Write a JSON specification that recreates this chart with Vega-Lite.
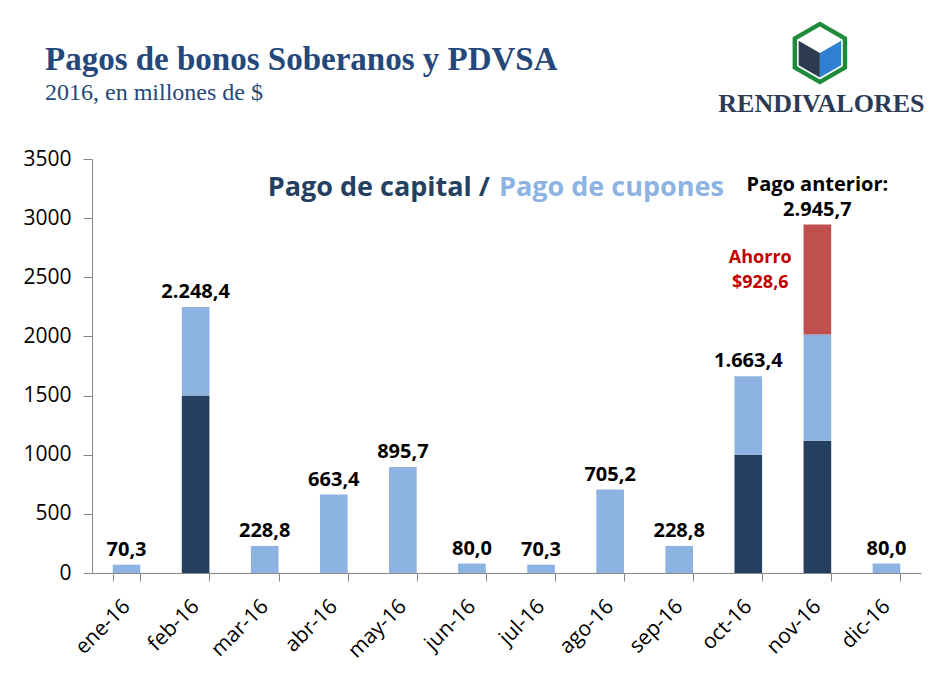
{
  "$schema": "https://vega.github.io/schema/vega-lite/v6.json",
  "width": 829,
  "height": 414,
  "autosize": "none",
  "padding": {"left": 92, "top": 159, "right": 28, "bottom": 104},
  "background": "white",
  "title": {
    "text": "Pagos de bonos Soberanos y PDVSA",
    "subtitle": "2016, en millones de $",
    "anchor": "start",
    "frame": "group",
    "dx": -47,
    "offset": -83,
    "font": "Liberation Serif",
    "fontSize": 33,
    "fontWeight": "bold",
    "color": "#24487A",
    "subtitleFont": "Liberation Serif",
    "subtitleFontSize": 24,
    "subtitleFontWeight": "normal",
    "subtitleColor": "#24487A",
    "subtitlePadding": 4
  },
  "config": {
    "view": {"stroke": null},
    "axis": {"grid": false, "domainColor": "#888888", "tickColor": "#888888", "labelFont": "Open Sans", "labelFontSize": 21, "labelColor": "#000000", "title": null}
  },
  "datasets": {
    "bars": [
      {"month": "ene-16", "serie": "Capital", "ord": 1, "value": 0},
      {"month": "ene-16", "serie": "Cupones", "ord": 2, "value": 70.3},
      {"month": "feb-16", "serie": "Capital", "ord": 1, "value": 1500},
      {"month": "feb-16", "serie": "Cupones", "ord": 2, "value": 748.4},
      {"month": "mar-16", "serie": "Cupones", "ord": 2, "value": 228.8},
      {"month": "abr-16", "serie": "Cupones", "ord": 2, "value": 663.4},
      {"month": "may-16", "serie": "Cupones", "ord": 2, "value": 895.7},
      {"month": "jun-16", "serie": "Cupones", "ord": 2, "value": 80.0},
      {"month": "jul-16", "serie": "Cupones", "ord": 2, "value": 70.3},
      {"month": "ago-16", "serie": "Cupones", "ord": 2, "value": 705.2},
      {"month": "sep-16", "serie": "Cupones", "ord": 2, "value": 228.8},
      {"month": "oct-16", "serie": "Capital", "ord": 1, "value": 1000},
      {"month": "oct-16", "serie": "Cupones", "ord": 2, "value": 663.4},
      {"month": "nov-16", "serie": "Capital", "ord": 1, "value": 1117},
      {"month": "nov-16", "serie": "Cupones", "ord": 2, "value": 900.1},
      {"month": "nov-16", "serie": "Ahorro", "ord": 3, "value": 928.6},
      {"month": "dic-16", "serie": "Cupones", "ord": 2, "value": 80.0}
    ],
    "labels": [
      {"month": "ene-16", "total": 70.3, "label": "70,3"},
      {"month": "feb-16", "total": 2248.4, "label": "2.248,4"},
      {"month": "mar-16", "total": 228.8, "label": "228,8"},
      {"month": "abr-16", "total": 663.4, "label": "663,4"},
      {"month": "may-16", "total": 895.7, "label": "895,7"},
      {"month": "jun-16", "total": 80.0, "label": "80,0"},
      {"month": "jul-16", "total": 70.3, "label": "70,3"},
      {"month": "ago-16", "total": 705.2, "label": "705,2"},
      {"month": "sep-16", "total": 228.8, "label": "228,8"},
      {"month": "oct-16", "total": 1663.4, "label": "1.663,4"},
      {"month": "dic-16", "total": 80.0, "label": "80,0"}
    ]
  },
  "encoding": {
    "x": {
      "field": "month",
      "type": "ordinal",
      "sort": ["ene-16", "feb-16", "mar-16", "abr-16", "may-16", "jun-16", "jul-16", "ago-16", "sep-16", "oct-16", "nov-16", "dic-16"],
      "scale": {"domain": ["ene-16", "feb-16", "mar-16", "abr-16", "may-16", "jun-16", "jul-16", "ago-16", "sep-16", "oct-16", "nov-16", "dic-16"], "paddingInner": 0.6, "paddingOuter": 0.3},
      "axis": {"labelAngle": -45, "labelAlign": "right", "labelBaseline": "middle", "tickBand": "extent", "tickSize": 8, "labelPadding": 22}
    }
  },
  "layer": [
    {
      "data": {"name": "bars"},
      "mark": {"type": "bar"},
      "encoding": {
        "y": {"field": "value", "type": "quantitative", "stack": "zero", "scale": {"domain": [0, 3500], "nice": false}, "axis": {"values": [0, 500, 1000, 1500, 2000, 2500, 3000, 3500], "format": "d", "tickSize": 9, "labelPadding": 12}},
        "color": {"field": "serie", "type": "nominal", "scale": {"domain": ["Capital", "Cupones", "Ahorro"], "range": ["#253F60", "#8DB3E2", "#C0504D"]}, "legend": null},
        "order": {"field": "ord", "type": "quantitative"}
      }
    },
    {
      "data": {"name": "labels"},
      "mark": {"type": "text", "baseline": "bottom", "dy": -5, "font": "Open Sans", "fontSize": 20, "fontWeight": "bold", "color": "#000000"},
      "encoding": {
        "y": {"field": "total", "type": "quantitative"},
        "text": {"field": "label"}
      }
    },
    {
      "data": {"values": [{"month": "nov-16", "total": 2945.7, "label": "Pago anterior:\n2.945,7"}]},
      "mark": {"type": "text", "baseline": "bottom", "dy": -30, "font": "Open Sans", "fontSize": 20, "fontWeight": "bold", "color": "#000000", "lineBreak": "\n", "lineHeight": 25},
      "encoding": {
        "y": {"field": "total", "type": "quantitative"},
        "text": {"field": "label"}
      }
    },
    {
      "data": {"values": [{"month": "oct-16", "y": 2667, "t": "Ahorro\n$928,6"}]},
      "mark": {"type": "text", "baseline": "middle", "align": "center", "dx": 12, "font": "Open Sans", "fontSize": 18, "fontWeight": "bold", "color": "#C00000", "lineBreak": "\n", "lineHeight": 25},
      "encoding": {"y": {"field": "y", "type": "quantitative"}, "text": {"field": "t"}}
    },
    {
      "data": {"values": [{"month": "jun-16", "y": 3254, "t": "Pago de capital /"}]},
      "mark": {"type": "text", "baseline": "middle", "align": "right", "dx": 18, "font": "Open Sans", "fontSize": 27, "fontWeight": "bold", "color": "#253F60"},
      "encoding": {"y": {"field": "y", "type": "quantitative"}, "text": {"field": "t"}}
    },
    {
      "data": {"values": [{"month": "jun-16", "y": 3254, "t": "Pago de cupones"}]},
      "mark": {"type": "text", "baseline": "middle", "align": "left", "dx": 27, "font": "Open Sans", "fontSize": 27, "fontWeight": "bold", "color": "#8DB3E2"},
      "encoding": {"y": {"field": "y", "type": "quantitative"}, "text": {"field": "t"}}
    },
    {
      "data": {"values": [{"month": "nov-16", "y": 3965, "t": "RENDIVALORES"}]},
      "mark": {"type": "text", "baseline": "middle", "align": "center", "dx": 4, "font": "Liberation Serif", "fontSize": 26, "fontWeight": "bold", "color": "#2C3A55"},
      "encoding": {"y": {"field": "y", "type": "quantitative"}, "text": {"field": "t"}}
    },
    {
      "data": {"values": [{"month": "nov-16", "y": 4396}]},
      "mark": {"type": "point", "filled": true, "opacity": 1, "strokeWidth": 0, "size": 3969, "color": "#1E8B3A", "shape": "M0.08,-1L0.946,-0.5L0.946,0.5L0.08,1L-0.786,0.5L-0.786,-0.5Z"},
      "encoding": {"y": {"field": "y", "type": "quantitative"}}
    },
    {
      "data": {"values": [{"month": "nov-16", "y": 4396}]},
      "mark": {"type": "point", "filled": true, "opacity": 1, "strokeWidth": 0, "size": 3969, "color": "#FFFFFF", "shape": "M0.08,-0.84L0.807,-0.42L0.807,0.42L0.08,0.84L-0.647,0.42L-0.647,-0.42Z"},
      "encoding": {"y": {"field": "y", "type": "quantitative"}}
    },
    {
      "data": {"values": [{"month": "nov-16", "y": 4396}]},
      "mark": {"type": "point", "filled": true, "opacity": 1, "strokeWidth": 0, "size": 3969, "color": "#2E3B50", "shape": "M-0.595,-0.39L0.08,0L0.08,0.78L-0.595,0.39Z"},
      "encoding": {"y": {"field": "y", "type": "quantitative"}}
    },
    {
      "data": {"values": [{"month": "nov-16", "y": 4396}]},
      "mark": {"type": "point", "filled": true, "opacity": 1, "strokeWidth": 0, "size": 3969, "color": "#2F80D0", "shape": "M0.08,0L0.755,-0.39L0.755,0.39L0.08,0.78Z"},
      "encoding": {"y": {"field": "y", "type": "quantitative"}}
    }
  ]
}
